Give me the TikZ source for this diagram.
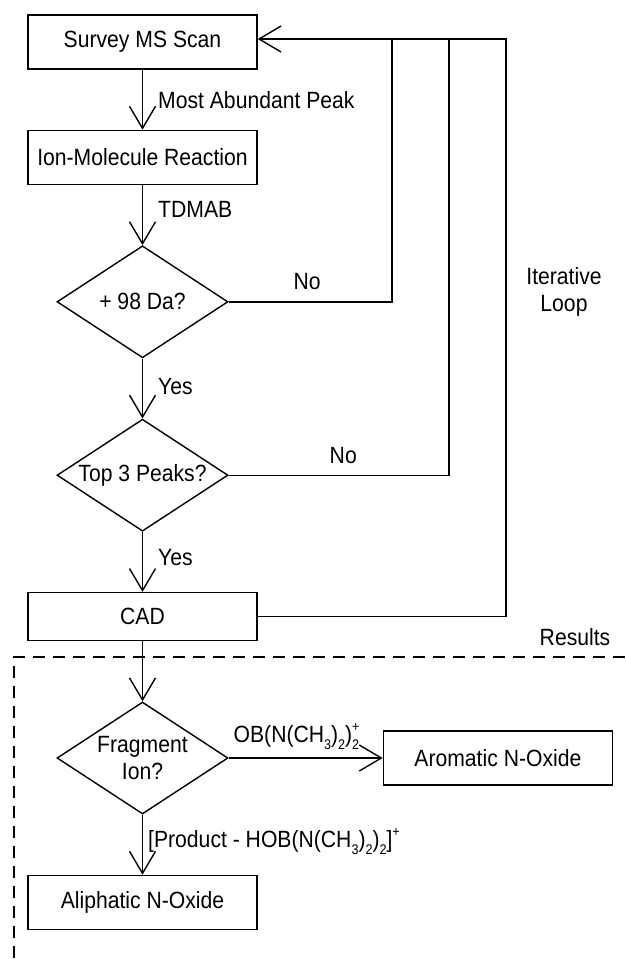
\documentclass[tikz,border=0pt]{standalone}
\usepackage{fontspec}
\setmainfont{Liberation Sans}[FakeStretch=0.9]
\usetikzlibrary{arrows.meta,shapes.geometric,positioning}

\newcommand{\chsub}[1]{\raisebox{-0.3em}{\fontsize{14}{14}\selectfont #1}}
\newcommand{\chsup}[1]{\raisebox{0.45em}{\fontsize{14}{14}\selectfont #1}}
\newcommand{\chg}[2]{\rlap{\chsup{#2}}\chsub{#1}}

\begin{document}
\begin{tikzpicture}[x=1pt, y=1pt, node distance=60pt, line width=1.4pt,
    >={Straight Barb[length=22pt, width=26pt]},
    every node/.style={font=\fontsize{23.5}{27}\selectfont},
    stage/.style={draw, rectangle, minimum width=229pt, minimum height=54pt, inner sep=2pt},
    query/.style={draw, diamond, aspect=1.53, minimum width=171pt, minimum height=112pt, inner sep=0pt, align=center},
    lbl/.style={right, inner sep=0pt, xshift=#1}, lbl/.default=15pt,
    nolbl/.style={above, inner sep=0pt, yshift=11pt}]
    \useasboundingbox (0,0) rectangle (625,-959);

    \node[stage] (scan) at (142.5,-42) {Survey MS Scan};
    \node[stage, below=of scan] (imr) {Ion-Molecule Reaction};
    \node[query, below=of imr] (mass) {+ 98 Da?};
    \node[query, below=of mass] (top) {Top 3 Peaks?};
    \node[stage, minimum height=48pt, below=of top] (cad) {CAD};
    \node[query, below=of cad] (frag) {Fragment\\Ion?};
    \node[stage, right=154pt of frag] (arom) {Aromatic N-Oxide};
    \node[stage, below=of frag] (aliph) {Aliphatic N-Oxide};

    \path[->] (scan) edge node[lbl] {Most Abundant Peak} (imr)
              (imr) edge node[lbl, pos=0.4] {TDMAB} (mass)
              (mass) edge node[lbl, pos=0.47] {Yes} (top)
              (top) edge node[lbl, pos=0.43] {Yes} (cad)
              (cad) edge (frag)
              (frag) edge node[above, pos=0.44, inner sep=0pt, yshift=8pt] {OB(N(CH\chsub{3})\chsub{2})\chg{2}{+}} (arom)
              (frag) edge node[lbl=5pt, pos=0.45] {[Product - HOB(N(CH\chsub{3})\chsub{2})\chsub{2}]\chsup{+}} (aliph);

    % iterative loop back to the survey scan
    \coordinate (loopA) at (392,-39);
    \coordinate (loopB) at (449,-39);
    \coordinate (loopC) at (506,-39);
    \draw (mass) -| node[pos=0.24, nolbl] {No} (loopA);
    \draw (top) -| node[pos=0.26, nolbl] {No} (loopB);
    \draw[->] (cad) -| (loopC) -- (loopC -| scan.east);

    \node[align=center] (iter) at (564,-292) {Iterative\\Loop};
    \node (res) at (575,-637) {Results};

    \draw[line width=2.8pt, dash pattern=on 12pt off 8pt] (625,-657) -- (14,-657) -- (14,-959);
\end{tikzpicture}
\end{document}
